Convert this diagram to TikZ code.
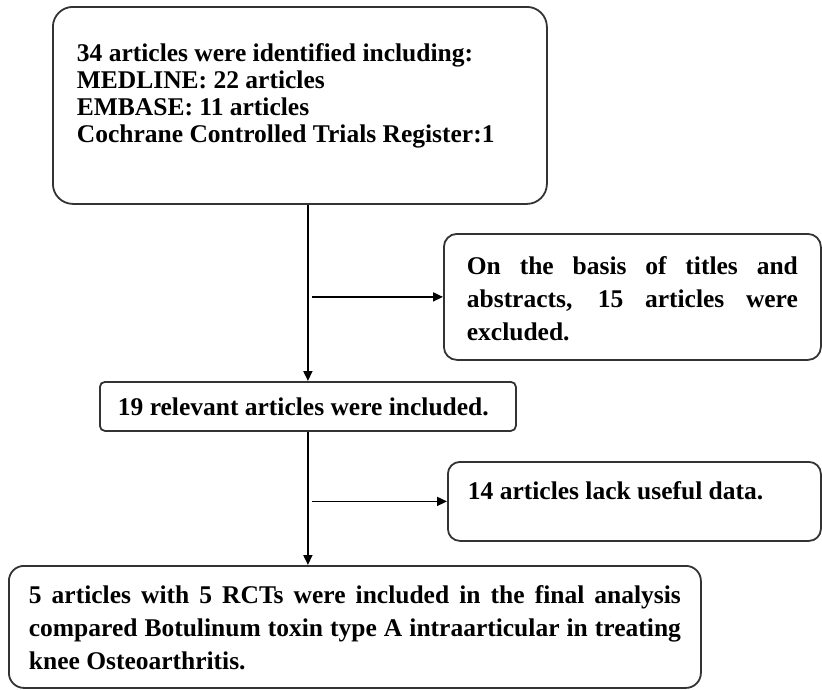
\documentclass[tikz,border=0pt]{standalone}
\usepackage{fontspec}
\setmainfont{Liberation Serif}
\usetikzlibrary{arrows.meta}
\hbadness=10000
\vbadness=10000

\begin{document}
\begin{tikzpicture}[x=1pt,y=-1pt,
    flow/.style={draw=black, line width=1.7pt, -{Triangle[length=10pt,width=9pt]}}]

      \useasboundingbox (0,0) rectangle (822,689);

      \begin{scope}[every node/.style={draw=black!80, line width=1.8pt, anchor=north west,
          inner sep=0pt, font=\bfseries\fontsize{25.5}{33}\selectfont}]
        \node[rounded corners=20pt, inner xsep=24pt, inner ysep=37pt] (ident) at (52,6)
          {\parbox[c][123pt][t]{446pt}{\fontsize{25.5}{27}\selectfont
            34 articles were identified including:\\
            MEDLINE: 22 articles\\
            EMBASE: 11 articles\\
            Cochrane Controlled Trials Register:1}};
        \node[rounded corners=13pt, inner xsep=23pt, inner ysep=23pt] (screen) at (443,233)
          {\parbox[c][80pt][t]{331pt}{\tolerance=10000
            On the basis of titles and\linebreak
            abstracts, 15 articles were\linebreak
            excluded.}};
        \node[rounded corners=5pt, inner xsep=18pt] (relevant) at (99,381)
          {\parbox[c][49pt][c]{380pt}{19 relevant articles were included.}};
        \node[rounded corners=12pt, inner xsep=20pt, inner ysep=20pt] (lack) at (447,461)
          {\parbox[c][39pt][t]{333pt}{14 articles lack useful data.}};
        \node[rounded corners=15pt, inner xsep=20pt, inner ysep=20pt] (final) at (8,565)
          {\parbox[c][82pt][t]{652pt}{\tolerance=10000
            5 articles with 5 RCTs were included in the final analysis\linebreak
            compared Botulinum toxin type A intraarticular in treating\linebreak
            knee Osteoarthritis.}};
      \end{scope}

      \path[flow] (ident.south -| relevant.north) -- (relevant.north);
      \path[flow] ([xshift=4pt]relevant.north |- screen.west) -- (screen.west);
      \path[flow] (relevant.south) -- (final.north -| relevant.south);
      \path[flow] ([xshift=4pt]relevant.south |- lack.west) -- (lack.west);

    \end{tikzpicture}
\end{document}
